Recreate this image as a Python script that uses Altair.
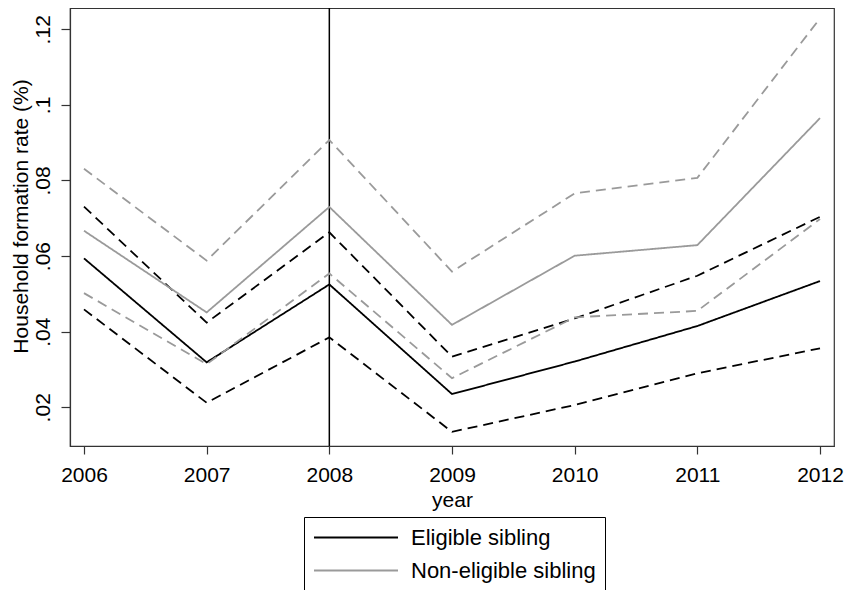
import altair as alt
import pandas as pd

years = [2006, 2007, 2008, 2009, 2010, 2011, 2012]
elig_mean = [0.0594, 0.0319, 0.0525, 0.0235, 0.0321, 0.0415, 0.0534]
elig_hi = [0.0731, 0.0424, 0.0663, 0.0334, 0.0435, 0.0548, 0.0704]
elig_lo = [0.0459, 0.0212, 0.0385, 0.0135, 0.0206, 0.0290, 0.0356]
non_mean = [0.0667, 0.0451, 0.0730, 0.0418, 0.0601, 0.0629, 0.0965]
non_hi = [0.0831, 0.0588, 0.0907, 0.0559, 0.0766, 0.0807, 0.1229]
non_lo = [0.0502, 0.0314, 0.0554, 0.0277, 0.0438, 0.0455, 0.0698]
groups = ["Eligible sibling", "Non-eligible sibling"]
y_ticks = [0.02, 0.04, 0.06, 0.08, 0.10, 0.12]
policy_year = [2008]

rows = []
for grp, series in [
    (groups[0], [("mean", "mean", elig_mean), ("hi", "ci", elig_hi), ("lo", "ci", elig_lo)]),
    (groups[1], [("mean", "mean", non_mean), ("hi", "ci", non_hi), ("lo", "ci", non_lo)]),
]:
    for name, kind, vals in series:
        for yr, v in zip(years, vals):
            rows.append({"year": yr, "value": v, "group": grp, "kind": kind,
                         "series": grp + "_" + name})
df = pd.DataFrame(rows)

x_scale = alt.Scale(domain=[2005.886, 2012.114], nice=False, zero=False)
y_scale = alt.Scale(domain=[0.00976, 0.12563], nice=False, zero=False)

rule = alt.Chart(pd.DataFrame({"year": policy_year})).mark_rule(
    color="#000000", strokeWidth=1.5
).encode(x=alt.X("year:Q", scale=x_scale))

lines = alt.Chart(df).mark_line(strokeWidth=1.8).encode(
    x=alt.X("year:Q", scale=x_scale,
            axis=alt.Axis(values=years, format="d", title="year", tickSize=8,
                          labelPadding=10, titlePadding=4, grid=False)),
    y=alt.Y("value:Q", scale=y_scale,
            axis=alt.Axis(values=y_ticks,
                          labelExpr="replace(format(datum.value, '.2~f'), '0.', '.')",
                          title="Household formation rate (%)",
                          labelAngle=270, labelAlign="center", labelBaseline="alphabetic",
                          labelPadding=12, tickSize=9, grid=False,
                          titleAngle=270, titleAlign="center", titleBaseline="alphabetic",
                          titleX=-43, titleY=208)),
    color=alt.Color("group:N", scale=alt.Scale(domain=groups, range=["#000000", "#9a9a9a"]),
                    legend=alt.Legend(title=None, orient="none", legendX=234, legendY=509,
                                      labelFontSize=22, labelFont="Liberation Sans",
                                      labelColor="#000000", labelLimit=0,
                                      symbolType="M-7,0H1", symbolSize=441,
                                      symbolStrokeWidth=2, symbolOffset=63,
                                      labelOffset=12, padding=9, rowPadding=10,
                                      strokeColor="#000000", fillColor="#ffffff",
                                      cornerRadius=0)),
    strokeDash=alt.StrokeDash("kind:N", scale=alt.Scale(domain=["mean", "ci"],
                                                        range=[[1, 0], [10, 6]]),
                              legend=None),
    detail="series:N",
)

chart = alt.layer(rule, lines).properties(
    width=764, height=438,
    autosize=alt.AutoSizeParams(type="none"),
    padding={"left": 62, "top": 0, "right": 10, "bottom": 144},
    background="white",
).configure_view(stroke="#333333", strokeWidth=1.2).configure_axis(
    labelFont="Liberation Sans", titleFont="Liberation Sans",
    labelFontSize=21, titleFontSize=21, labelColor="#000000", titleColor="#000000",
    titleFontWeight="normal", tickColor="#333333", domainColor="#333333",
    tickWidth=1.2, domainWidth=1.2,
)

chart.save("out.html", embed_options={"renderer": "svg", "actions": False})
